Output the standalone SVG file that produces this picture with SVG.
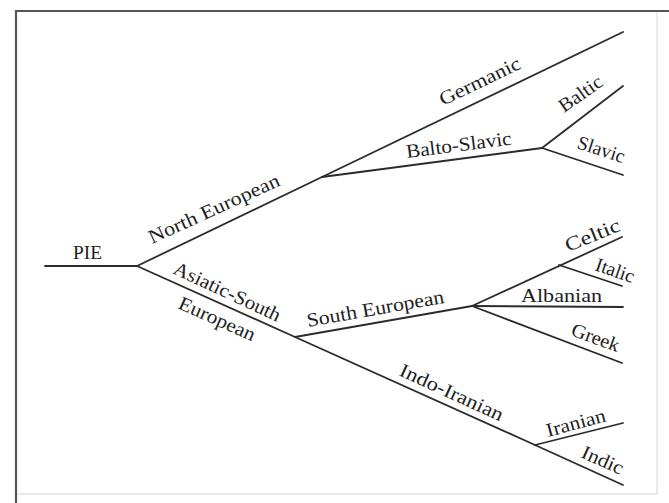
<svg xmlns="http://www.w3.org/2000/svg" width="669" height="503" viewBox="0 0 669 503">
<style>
.frame-dark{stroke:#555;stroke-width:2.2;fill:none}
.frame-light{stroke:#e4e4e4;stroke-width:1.5;fill:none}
.edge{stroke:#2b2b2b;stroke-width:1.8;fill:none;stroke-linecap:round;stroke-linejoin:round}
.lbl{font-family:"Liberation Serif","Times New Roman",serif;font-size:19.5px;fill:#1e1e1e}
</style>
<rect width="669" height="503" fill="#ffffff"/>
<g id="frame">
<path class="frame-light" d="M16,494 H657 V11"/>
<path class="frame-dark" d="M15,11 H669 M16,11 V503"/>
</g>
<g id="connectors">
<path class="edge" d="M45,266 H137"/>
<path class="edge" d="M137,266 L322,177"/>
<path class="edge" d="M322,177 L623,32"/>
<path class="edge" d="M322,177 L542,148"/>
<path class="edge" d="M542,148 L623,86"/>
<path class="edge" d="M542,148 L623,175"/>
<path class="edge" d="M137,266 L295,337"/>
<path class="edge" d="M295,337 L472,306"/>
<path class="edge" d="M472,306 L622,237"/>
<path class="edge" d="M559,265 L622,286"/>
<path class="edge" d="M472,306 L623,307"/>
<path class="edge" d="M472,306 L622,363"/>
<path class="edge" d="M295,337 L535,445"/>
<path class="edge" d="M535,445 L623,423"/>
<path class="edge" d="M535,445 L623,485"/>
</g>
<g id="node-pie"><text class="lbl" x="73" y="259" textLength="29" lengthAdjust="spacingAndGlyphs">PIE</text></g>
<g id="node-north-european"><text class="lbl" x="152" y="244" transform="rotate(-24.5 152 244)" textLength="142" lengthAdjust="spacingAndGlyphs">North European</text></g>
<g id="node-asiatic-south-european">
<text class="lbl" x="172" y="273" transform="rotate(25 172 273)" textLength="116" lengthAdjust="spacingAndGlyphs">Asiatic-South</text>
<text class="lbl" x="177" y="308" transform="rotate(24 177 308)" textLength="82" lengthAdjust="spacingAndGlyphs">European</text>
</g>
<g id="node-germanic"><text class="lbl" x="443" y="106" transform="rotate(-25.7 443 106)" textLength="88" lengthAdjust="spacingAndGlyphs">Germanic</text></g>
<g id="node-balto-slavic"><text class="lbl" x="407" y="158" transform="rotate(-7.3 407 158)" textLength="106" lengthAdjust="spacingAndGlyphs">Balto-Slavic</text></g>
<g id="node-baltic"><text class="lbl" x="564" y="113" transform="rotate(-35 564 113)" textLength="49" lengthAdjust="spacingAndGlyphs">Baltic</text></g>
<g id="node-slavic"><text class="lbl" x="576" y="148" transform="rotate(18 576 148)" textLength="49" lengthAdjust="spacingAndGlyphs">Slavic</text></g>
<g id="node-south-european"><text class="lbl" x="308" y="327" transform="rotate(-10 308 327)" textLength="139" lengthAdjust="spacingAndGlyphs">South European</text></g>
<g id="node-celtic"><text class="lbl" x="568" y="252" transform="rotate(-22 568 252)" textLength="58" lengthAdjust="spacingAndGlyphs">Celtic</text></g>
<g id="node-italic"><text class="lbl" x="594" y="270" transform="rotate(19 594 270)" textLength="40" lengthAdjust="spacingAndGlyphs">Italic</text></g>
<g id="node-albanian"><text class="lbl" x="521" y="301.5" textLength="81" lengthAdjust="spacingAndGlyphs">Albanian</text></g>
<g id="node-greek"><text class="lbl" x="570" y="335" transform="rotate(20 570 335)" textLength="50" lengthAdjust="spacingAndGlyphs">Greek</text></g>
<g id="node-indo-iranian"><text class="lbl" x="398" y="375" transform="rotate(24.5 398 375)" textLength="112" lengthAdjust="spacingAndGlyphs">Indo-Iranian</text></g>
<g id="node-iranian"><text class="lbl" x="548" y="437" transform="rotate(-15 548 437)" textLength="61" lengthAdjust="spacingAndGlyphs">Iranian</text></g>
<g id="node-indic"><text class="lbl" x="580" y="457" transform="rotate(24 580 457)" textLength="44" lengthAdjust="spacingAndGlyphs">Indic</text></g>
</svg>
